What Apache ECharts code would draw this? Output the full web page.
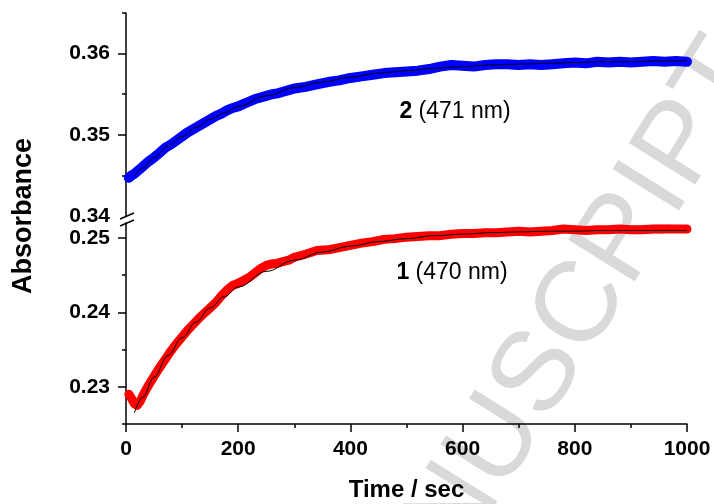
<!DOCTYPE html>
<html>
<head>
<meta charset="utf-8">
<script src="https://cdn.jsdelivr.net/npm/echarts@6/dist/echarts.min.js"></script>
<style>
  html, body { margin: 0; padding: 0; background: #fff; }
  #chart { width: 714px; height: 504px; }
</style>
</head>
<body>
<div id="chart"></div>
<script>
// measured time points (s)
const dataTime = [5, 10, 15, 20, 25, 30, 40, 50, 60, 70, 80, 90, 100, 110, 120, 130, 140, 150, 160, 170,
  180, 190, 200, 210, 220, 230, 240, 250, 260, 270, 280, 290, 300, 320, 340, 360, 380, 400, 420, 440,
  460, 480, 500, 520, 540, 560, 580, 600, 620, 640, 660, 680, 700, 720, 740, 760, 780, 800, 820, 840,
  860, 880, 900, 920, 940, 960, 980, 1000]

// compound 2, 471 nm
const blueData = [0.3447, 0.3450, 0.3452, 0.3455, 0.3458, 0.3461, 0.3467, 0.3472, 0.3478, 0.3484,
  0.3488, 0.3493, 0.3498, 0.3503, 0.3507, 0.3511, 0.3515, 0.3519, 0.3523, 0.3526,
  0.3530, 0.3533, 0.3535, 0.3538, 0.3541, 0.3544, 0.3546, 0.3548, 0.3550, 0.3551,
  0.3553, 0.3555, 0.3557, 0.3559, 0.3562, 0.3565, 0.3567, 0.3570, 0.3572, 0.3574,
  0.3576, 0.3577, 0.3578, 0.3579, 0.3581, 0.3584, 0.3586, 0.3585, 0.3584, 0.3586,
  0.3587, 0.3587, 0.3586, 0.3587, 0.3586, 0.3587, 0.3588, 0.3589, 0.3588, 0.3590,
  0.3589, 0.3590, 0.3589, 0.3590, 0.3591, 0.3590, 0.3591, 0.3590]

// compound 1, 470 nm
const redData = [0.2290, 0.2284, 0.2277, 0.2275, 0.2280, 0.2288, 0.2302, 0.2314, 0.2326, 0.2337,
  0.2348, 0.2358, 0.2367, 0.2376, 0.2384, 0.2392, 0.2399, 0.2406, 0.2413, 0.2422,
  0.2430, 0.2436, 0.2439, 0.2443, 0.2447, 0.2453, 0.2459, 0.2463, 0.2465, 0.2466,
  0.2468, 0.2470, 0.2474, 0.2478, 0.2483, 0.2484, 0.2487, 0.2490, 0.2493, 0.2495,
  0.2498, 0.2499, 0.2501, 0.2502, 0.2503, 0.2503, 0.2505, 0.2506, 0.2506, 0.2507,
  0.2507, 0.2508, 0.2509, 0.2508, 0.2509, 0.2510, 0.2512, 0.2511, 0.2510, 0.2511,
  0.2511, 0.2512, 0.2511, 0.2511, 0.2512, 0.2512, 0.2512, 0.2512]

// fitted curves
const fitTime = [15, 30, 50, 75, 100, 125, 150, 175, 200, 250, 300, 350, 400, 450, 500, 550, 600,
  650, 700, 750, 800, 850, 900, 950, 1000]
const blueFit = [0.3449, 0.3459, 0.3472, 0.3486, 0.3498, 0.3509, 0.3519, 0.3527, 0.3535, 0.3548,
  0.3558, 0.3565, 0.3571, 0.3576, 0.3579, 0.3582, 0.3584, 0.3586, 0.3587, 0.3588,
  0.3589, 0.3590, 0.3590, 0.3591, 0.3591]
const redFit = [0.2265, 0.2286, 0.2313, 0.2342, 0.2366, 0.2387, 0.2406, 0.2421, 0.2434, 0.2455,
  0.2470, 0.2481, 0.2489, 0.2495, 0.2499, 0.2503, 0.2505, 0.2507, 0.2508, 0.2509,
  0.2509, 0.2510, 0.2510, 0.2510, 0.2510]

// axis ticks
const xTicks = [0, 200, 400, 600, 800, 1000]
const upperLabels = [0.34, 0.35, 0.36]
const upperMajor = [0.35, 0.36]
const upperMinor = [0.345, 0.355, 0.365]
const lowerLabels = [0.23, 0.24, 0.25]
const lowerMajor = [0.23, 0.24, 0.25]
const lowerMinor = [0.225, 0.235, 0.245]

const FONT = '"Liberation Sans", Arial, sans-serif'
const zip = (xs, ys) => xs.map((x, i) => [x, ys[i]])

const chart = echarts.init(document.getElementById('chart'), null, { renderer: 'canvas' })

const axisLine = { show: true, lineStyle: { color: '#000', width: 1.5 } }
const tickLabel = {
    color: '#000',
    fontFamily: FONT,
    fontWeight: 'bold',
    fontSize: 21,
    margin: 16
}

const yMain = (grid, min, max, labels, major) => ({
    type: 'value',
    gridIndex: grid,
    position: 'left',
    min: min,
    max: max,
    axisLine: axisLine,
    axisTick: { show: true, inside: false, length: 8, customValues: major, lineStyle: { color: '#000', width: 1.5 } },
    axisLabel: Object.assign({ customValues: labels, formatter: v => v.toFixed(2) }, tickLabel),
    splitLine: { show: false }
})
const yMinor = (grid, min, max, minor) => ({
    type: 'value',
    gridIndex: grid,
    position: 'left',
    min: min,
    max: max,
    axisLine: { show: false },
    axisTick: { show: true, inside: false, length: 4, customValues: minor, lineStyle: { color: '#000', width: 1.5 } },
    axisLabel: { show: false },
    splitLine: { show: false }
})

const option = {
    animation: false,
    backgroundColor: '#fff',
    grid: [
        { left: 126, right: 27, top: 13, height: 203 },
        { left: 126, right: 27, top: 223, height: 201 }
    ],
    xAxis: [
        { type: 'value', gridIndex: 0, min: 0, max: 1000, show: false },
        {
            type: 'value',
            gridIndex: 1,
            min: 0,
            max: 1000,
            interval: 200,
            axisLine: axisLine,
            axisTick: { show: true, inside: false, length: 8, lineStyle: { color: '#000', width: 1.5 } },
            minorTick: { show: true, splitNumber: 2, length: 4, lineStyle: { color: '#000', width: 1.5 } },
            axisLabel: Object.assign({}, tickLabel, { customValues: xTicks, margin: 15, formatter: v => String(v) }),
            splitLine: { show: false },
            name: 'Time / sec',
            nameLocation: 'middle',
            nameGap: 54,
            nameTextStyle: { color: '#000', fontFamily: FONT, fontWeight: 'bold', fontSize: 24 }
        }
    ],
    yAxis: [
        yMain(0, 0.34, 0.365, upperLabels, upperMajor),
        yMinor(0, 0.34, 0.365, upperMinor),
        yMain(1, 0.225, 0.252, lowerLabels, lowerMajor),
        yMinor(1, 0.225, 0.252, lowerMinor)
    ],
    graphic: [
        {
            // watermark
            type: 'text',
            z: -10,
            x: 541, y: 372,
            rotation: Math.PI * 58 / 180,
            style: {
                text: 'MANUSCRIPT',
                fill: '#d9d9d9',
                font: 'normal 114px ' + FONT,
                textAlign: 'center',
                textVerticalAlign: 'middle'
            }
        },
        {
            type: 'text',
            x: 24, y: 216,
            rotation: Math.PI / 2,
            style: {
                text: 'Absorbance',
                fill: '#000',
                font: 'bold 27px ' + FONT,
                textAlign: 'center',
                textVerticalAlign: 'middle'
            }
        },
        {
            type: 'text',
            x: 455, y: 112,
            style: {
                text: '{b|2} (471 nm)',
                fill: '#000',
                font: '23px ' + FONT,
                textAlign: 'center',
                textVerticalAlign: 'middle',
                rich: { b: { fontWeight: 'bold', fontSize: 23, fontFamily: FONT } }
            }
        },
        {
            type: 'text',
            x: 452, y: 273,
            style: {
                text: '{b|1} (470 nm)',
                fill: '#000',
                font: '23px ' + FONT,
                textAlign: 'center',
                textVerticalAlign: 'middle',
                rich: { b: { fontWeight: 'bold', fontSize: 23, fontFamily: FONT } }
            }
        },
        // axis break marks
        { type: 'line', shape: { x1: 120, y1: 219, x2: 134, y2: 213 }, style: { stroke: '#000', lineWidth: 1.5 } },
        { type: 'line', shape: { x1: 120, y1: 226, x2: 134, y2: 220 }, style: { stroke: '#000', lineWidth: 1.5 } }
    ],
    series: [
        {
            name: '2 data',
            type: 'line',
            xAxisIndex: 0,
            yAxisIndex: 0,
            data: zip(dataTime, blueData),
            showSymbol: false,
            lineStyle: { color: '#0000ff', width: 10, cap: 'round', join: 'round' },
            z: 2
        },
        {
            name: '2 fit',
            type: 'line',
            xAxisIndex: 0,
            yAxisIndex: 0,
            data: zip(fitTime, blueFit),
            showSymbol: false,
            smooth: 0.4,
            smoothMonotone: 'x',
            lineStyle: { color: '#000', width: 1 },
            z: 3
        },
        {
            name: '1 data',
            type: 'line',
            xAxisIndex: 1,
            yAxisIndex: 2,
            data: zip(dataTime, redData),
            showSymbol: false,
            lineStyle: { color: '#ff0000', width: 9, cap: 'round', join: 'round' },
            z: 2
        },
        {
            name: '1 fit',
            type: 'line',
            xAxisIndex: 1,
            yAxisIndex: 2,
            data: zip(fitTime, redFit),
            showSymbol: false,
            smooth: 0.4,
            smoothMonotone: 'x',
            lineStyle: { color: '#000', width: 1 },
            z: 3
        }
    ]
}

chart.setOption(option)
</script>
</body>
</html>
